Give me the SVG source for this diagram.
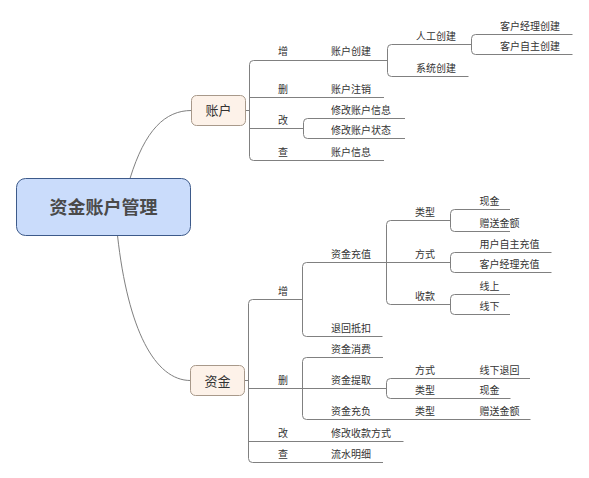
<svg xmlns="http://www.w3.org/2000/svg" width="589" height="478" viewBox="0 0 589 478">
<style>
.c{fill:none;stroke:#808080;stroke-width:1}
.t{font-family:"Noto Sans CJK SC","Noto Sans",sans-serif;font-size:10px;fill:#333}
.n{font-family:"Noto Sans CJK SC","Noto Sans",sans-serif;font-size:13px;fill:#333;text-anchor:middle}
.sub{fill:#fdf2e9;stroke:#a8998a;stroke-width:1}
</style>
<rect width="589" height="478" fill="#fff"/>
<g id="connectors">
<path class="c" d="M130,178.5 C145,130 165,110.5 191.5,110.5"/>
<path class="c" d="M117.5,235.5 C128,330 155,380.5 190.5,380.5"/>
<!-- account -->
<path class="c" d="M245.5,110.5 H249.5"/>
<path class="c" d="M253.5,60.5 Q249.5,60.5 249.5,64.5 V156.5 Q249.5,160.5 253.5,160.5"/>
<path class="c" d="M253.5,60.5 H387.5"/>
<path class="c" d="M249.5,97.5 H384"/>
<path class="c" d="M249.5,128.5 H303.5"/>
<path class="c" d="M253.5,160.5 H384"/>
<path class="c" d="M391.5,44.5 Q387.5,44.5 387.5,48.5 V72.5 Q387.5,76.5 391.5,76.5"/>
<path class="c" d="M391.5,44.5 H471.5"/>
<path class="c" d="M391.5,76.5 H468.5"/>
<path class="c" d="M475.5,34.5 Q471.5,34.5 471.5,38.5 V50.5 Q471.5,54.5 475.5,54.5"/>
<path class="c" d="M475.5,34.5 H572.5"/>
<path class="c" d="M475.5,54.5 H572.5"/>
<path class="c" d="M307.5,118.5 Q303.5,118.5 303.5,122.5 V134.5 Q303.5,138.5 307.5,138.5"/>
<path class="c" d="M307.5,118.5 H405"/>
<path class="c" d="M307.5,138.5 H405"/>
<!-- fund -->
<path class="c" d="M244.5,380.5 H248.5"/>
<path class="c" d="M252.5,299.5 Q248.5,299.5 248.5,303.5 V458.5 Q248.5,462.5 252.5,462.5"/>
<path class="c" d="M252.5,299.5 H302.5"/>
<path class="c" d="M248.5,388.5 H302.5"/>
<path class="c" d="M248.5,441.5 H403.5"/>
<path class="c" d="M252.5,462.5 H383"/>
<path class="c" d="M306.5,262.5 Q302.5,262.5 302.5,266.5 V332.5 Q302.5,336.5 306.5,336.5"/>
<path class="c" d="M306.5,262.5 H450.5"/>
<path class="c" d="M306.5,336.5 H382.5"/>
<path class="c" d="M390.5,220.5 Q386.5,220.5 386.5,224.5 V300.5 Q386.5,304.5 390.5,304.5"/>
<path class="c" d="M390.5,220.5 H450.5"/>
<path class="c" d="M390.5,304.5 H450.5"/>
<path class="c" d="M454.5,209.5 Q450.5,209.5 450.5,213.5 V227.5 Q450.5,231.5 454.5,231.5"/>
<path class="c" d="M454.5,209.5 H510"/>
<path class="c" d="M454.5,231.5 H510"/>
<path class="c" d="M454.5,252.5 Q450.5,252.5 450.5,256.5 V268.5 Q450.5,272.5 454.5,272.5"/>
<path class="c" d="M454.5,252.5 H551.5"/>
<path class="c" d="M454.5,272.5 H551.5"/>
<path class="c" d="M454.5,294.5 Q450.5,294.5 450.5,298.5 V310.5 Q450.5,314.5 454.5,314.5"/>
<path class="c" d="M454.5,294.5 H510"/>
<path class="c" d="M454.5,314.5 H510"/>
<path class="c" d="M306.5,357.5 Q302.5,357.5 302.5,361.5 V415.5 Q302.5,419.5 306.5,419.5"/>
<path class="c" d="M306.5,357.5 H383"/>
<path class="c" d="M302.5,388.5 H386.5"/>
<path class="c" d="M306.5,419.5 H530.5"/>
<path class="c" d="M390.5,378.5 Q386.5,378.5 386.5,382.5 V394.5 Q386.5,398.5 390.5,398.5"/>
<path class="c" d="M390.5,378.5 H530"/>
<path class="c" d="M390.5,398.5 H510.5"/>
</g>
<g id="root">
<rect x="16.5" y="178.5" width="174" height="57" rx="9" fill="#cadcfb" stroke="#3d5a8a" stroke-width="1"/>
<text x="103.5" y="214" font-family="'Noto Sans CJK SC','Noto Sans',sans-serif" font-size="18" font-weight="bold" fill="#4a4a4a" text-anchor="middle">资金账户管理</text>
</g>
<g id="account">
<rect class="sub" x="191.5" y="95.5" width="54" height="30" rx="5"/>
<text class="n" x="218.5" y="115">账户</text>
</g>
<g id="fund">
<rect class="sub" x="190.5" y="365.5" width="54" height="30" rx="5"/>
<text class="n" x="217.5" y="385.5">资金</text>
</g>
<g id="account-children">
<text class="t" x="278" y="55">增</text>
<text class="t" x="278" y="92.5">删</text>
<text class="t" x="278" y="123.5">改</text>
<text class="t" x="278" y="155.5">查</text>
<text class="t" x="331" y="55">账户创建</text>
<text class="t" x="331" y="92.5">账户注销</text>
<text class="t" x="331" y="113.5">修改账户信息</text>
<text class="t" x="331" y="133.5">修改账户状态</text>
<text class="t" x="331" y="155.5">账户信息</text>
<text class="t" x="416" y="39.5">人工创建</text>
<text class="t" x="416" y="71.5">系统创建</text>
<text class="t" x="500" y="29.5">客户经理创建</text>
<text class="t" x="500" y="49.5">客户自主创建</text>
</g>
<g id="fund-children">
<text class="t" x="278" y="294.5">增</text>
<text class="t" x="278" y="383.5">删</text>
<text class="t" x="278" y="436.5">改</text>
<text class="t" x="278" y="457.5">查</text>
<text class="t" x="331" y="257.5">资金充值</text>
<text class="t" x="331" y="331.5">退回抵扣</text>
<text class="t" x="331" y="352.5">资金消费</text>
<text class="t" x="331" y="383.5">资金提取</text>
<text class="t" x="331" y="414.5">资金充负</text>
<text class="t" x="331" y="436.5">修改收款方式</text>
<text class="t" x="331" y="457.5">流水明细</text>
<text class="t" x="415" y="215.5">类型</text>
<text class="t" x="415" y="257.5">方式</text>
<text class="t" x="415" y="299.5">收款</text>
<text class="t" x="415" y="373.5">方式</text>
<text class="t" x="415" y="393.5">类型</text>
<text class="t" x="415" y="414.5">类型</text>
<text class="t" x="479.5" y="204.5">现金</text>
<text class="t" x="479.5" y="226.5">赠送金额</text>
<text class="t" x="479.5" y="247.5">用户自主充值</text>
<text class="t" x="479.5" y="267.5">客户经理充值</text>
<text class="t" x="479.5" y="289.5">线上</text>
<text class="t" x="479.5" y="309.5">线下</text>
<text class="t" x="479.5" y="373.5">线下退回</text>
<text class="t" x="479.5" y="393.5">现金</text>
<text class="t" x="479.5" y="414.5">赠送金额</text>
</g>
</svg>
